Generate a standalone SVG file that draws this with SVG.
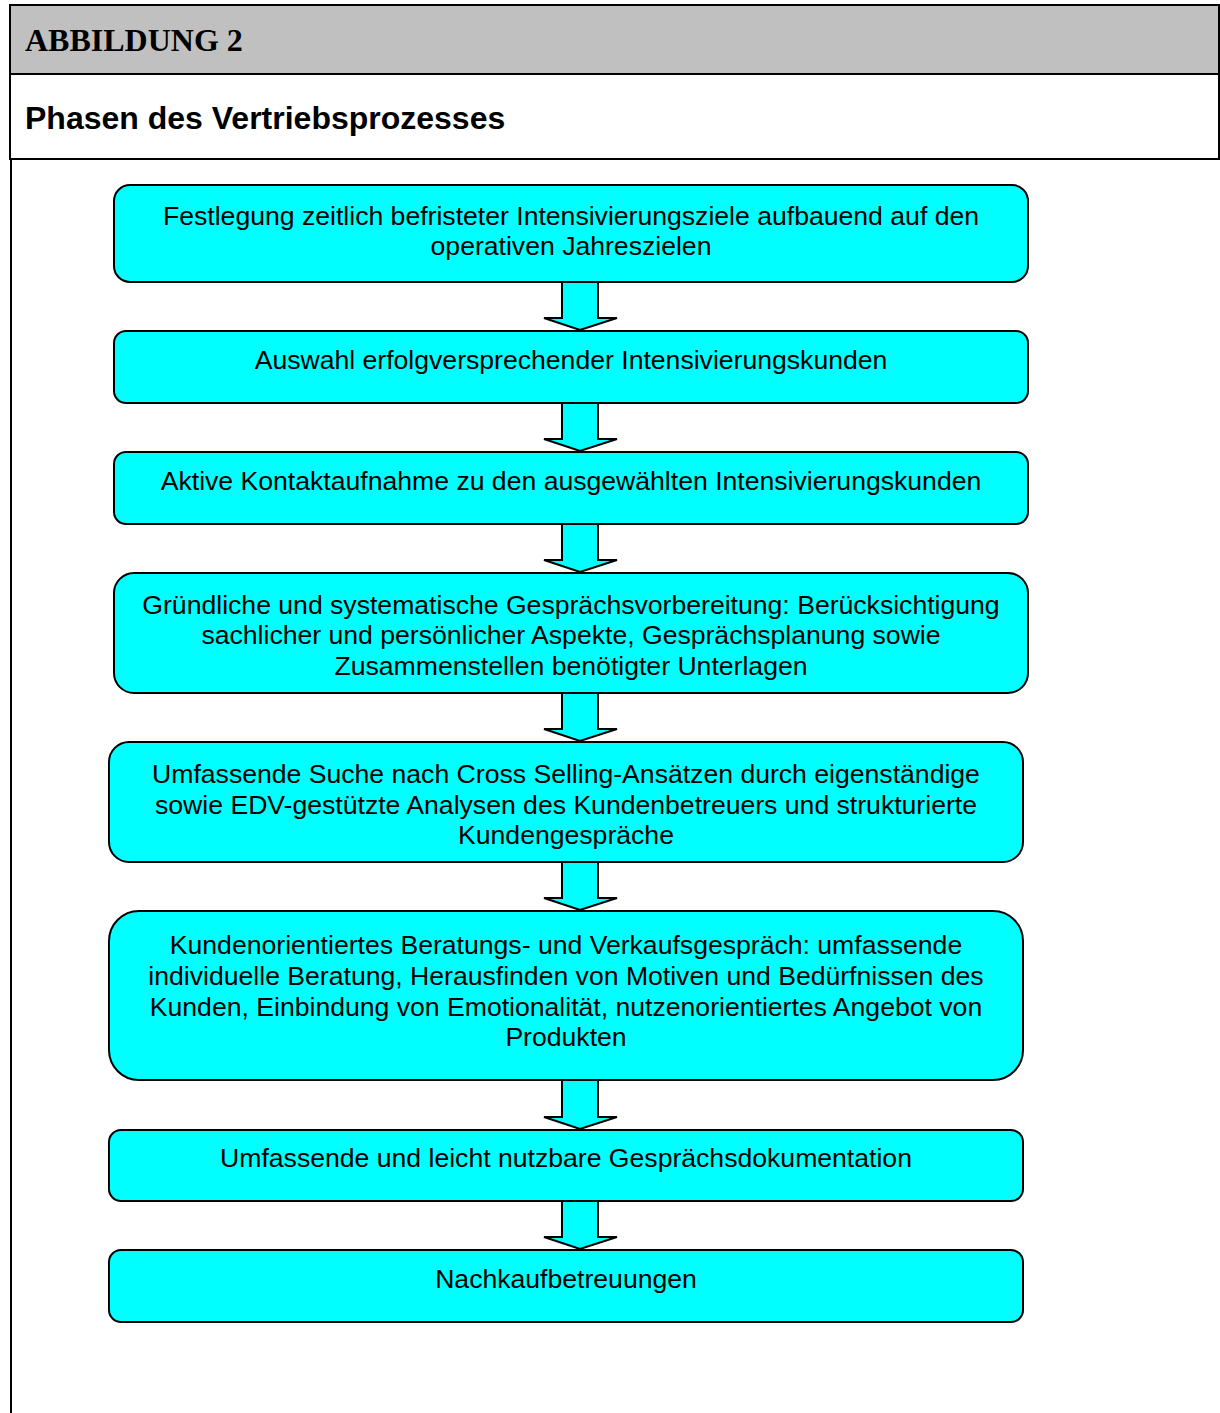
<svg xmlns="http://www.w3.org/2000/svg" width="1220" height="1413" viewBox="0 0 1220 1413">
<style>
.box{fill:#00FFFF;stroke:#000;stroke-width:2}
.arr{fill:#00FFFF;stroke:#000;stroke-width:2;stroke-linejoin:miter}
.t{font-family:"Liberation Sans",Arial,sans-serif;font-size:26.6px;fill:#000;text-anchor:middle}
</style>
<rect x="0" y="0" width="1220" height="1413" fill="#fff"/>
<g id="header">
<rect x="10" y="5" width="1209" height="69" fill="#C0C0C0" stroke="#000" stroke-width="2"/>
<rect x="10" y="74" width="1209" height="85" fill="#fff" stroke="#000" stroke-width="2"/>
<line x1="11" y1="159" x2="11" y2="1413" stroke="#000" stroke-width="2"/>
<text x="25" y="51" font-family="'Liberation Serif','Times New Roman',serif" font-weight="bold" font-size="32">ABBILDUNG 2</text>
<text x="25" y="129" font-family="'Liberation Sans',Arial,sans-serif" font-weight="bold" font-size="32">Phasen des Vertriebsprozesses</text>
</g>
<g id="connectors">
<path class="arr" d="M562,282 H598 V318 H617 L580,330 L544,318 H562 Z"/>
<path class="arr" d="M562,403 H598 V439 H617 L580,451 L544,439 H562 Z"/>
<path class="arr" d="M562,524 H598 V560 H617 L580,572 L544,560 H562 Z"/>
<path class="arr" d="M562,693 H598 V729 H617 L580,741 L544,729 H562 Z"/>
<path class="arr" d="M562,862 H598 V898 H617 L580,910 L544,898 H562 Z"/>
<path class="arr" d="M562,1080 H598 V1117 H617 L580,1129 L544,1117 H562 Z"/>
<path class="arr" d="M562,1201 H598 V1237 H617 L580,1249 L544,1237 H562 Z"/>
</g>
<g id="n1"><rect class="box" x="114" y="185" width="914" height="97" rx="16"/>
<text class="t" x="571" y="225">Festlegung zeitlich befristeter Intensivierungsziele aufbauend auf den</text>
<text class="t" x="571" y="255">operativen Jahreszielen</text></g>
<g id="n2"><rect class="box" x="114" y="331" width="914" height="72" rx="12"/>
<text class="t" x="571" y="369">Auswahl erfolgversprechender Intensivierungskunden</text></g>
<g id="n3"><rect class="box" x="114" y="452" width="914" height="72" rx="12"/>
<text class="t" x="571" y="490">Aktive Kontaktaufnahme zu den ausgewählten Intensivierungskunden</text></g>
<g id="n4"><rect class="box" x="114" y="573" width="914" height="120" rx="20"/>
<text class="t" x="571" y="614">Gründliche und systematische Gesprächsvorbereitung: Berücksichtigung</text>
<text class="t" x="571" y="644">sachlicher und persönlicher Aspekte, Gesprächsplanung sowie</text>
<text class="t" x="571" y="675">Zusammenstellen benötigter Unterlagen</text></g>
<g id="n5"><rect class="box" x="109" y="742" width="914" height="120" rx="20"/>
<text class="t" x="566" y="783">Umfassende Suche nach Cross Selling-Ansätzen durch eigenständige</text>
<text class="t" x="566" y="814">sowie EDV-gestützte Analysen des Kundenbetreuers und strukturierte</text>
<text class="t" x="566" y="844">Kundengespräche</text></g>
<g id="n6"><rect class="box" x="109" y="911" width="914" height="169" rx="30"/>
<text class="t" x="566" y="954">Kundenorientiertes Beratungs- und Verkaufsgespräch: umfassende</text>
<text class="t" x="566" y="985">individuelle Beratung, Herausfinden von Motiven und Bedürfnissen des</text>
<text class="t" x="566" y="1016">Kunden, Einbindung von Emotionalität, nutzenorientiertes Angebot von</text>
<text class="t" x="566" y="1046">Produkten</text></g>
<g id="n7"><rect class="box" x="109" y="1130" width="914" height="71" rx="12"/>
<text class="t" x="566" y="1167">Umfassende und leicht nutzbare Gesprächsdokumentation</text></g>
<g id="n8"><rect class="box" x="109" y="1250" width="914" height="72" rx="12"/>
<text class="t" x="566" y="1288">Nachkaufbetreuungen</text></g>
</svg>
